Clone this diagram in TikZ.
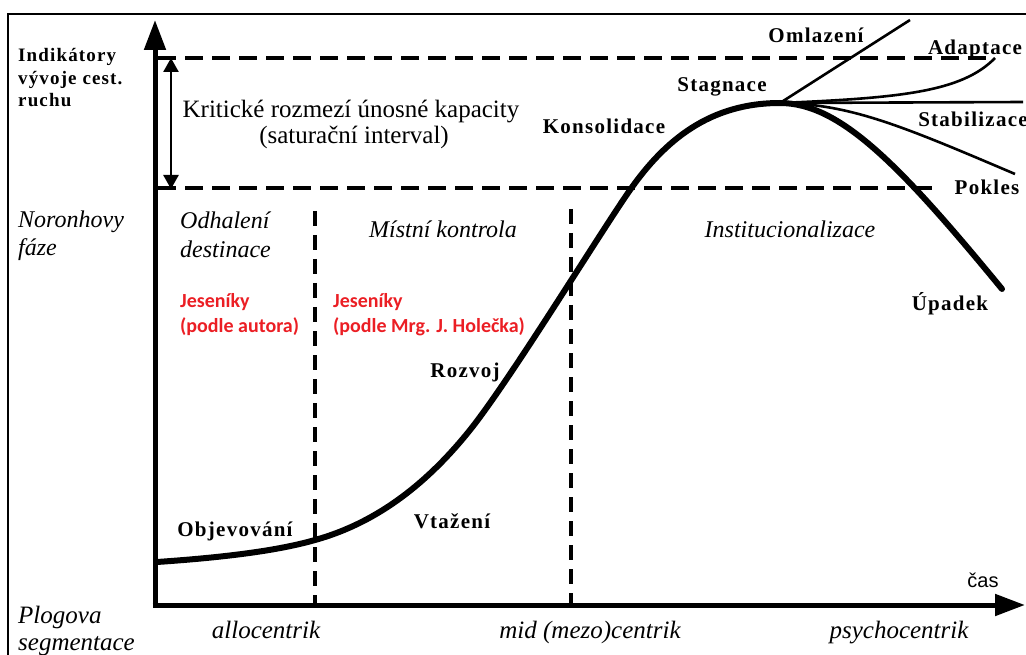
\documentclass[tikz,border=0pt]{standalone}
\usepackage{fontspec}
\setmainfont{Liberation Serif}
\newfontfamily\lblfont[LetterSpace=6]{Liberation Serif}
\newfontfamily\redfont{Carlito}
\newfontfamily\casfont{Liberation Sans}
\usetikzlibrary{arrows.meta}
\definecolor{jred}{RGB}{235,30,36}
\tikzset{
  frame/.style={line width=2pt},
  axis/.style={line width=5pt,-{Triangle[length=30pt,width=21pt]}},
  dline/.style={line width=4pt,dash pattern=on 18pt off 9pt},
  vdline/.style={line width=4pt,dash pattern=on 15pt off 9pt},
  curve/.style={line width=6pt,line cap=round},
  branch/.style={line width=2.6pt},
  dbl/.style={line width=2.5pt,{Triangle[length=14pt,width=15pt]}-{Triangle[length=14pt,width=15pt]}},
  boldlbl/.style={font=\lblfont\bfseries\fontsize{21}{25}\selectfont,inner sep=0pt,anchor=base},
  sidelbl/.style={font=\lblfont\bfseries\fontsize{19}{23}\selectfont,inner sep=0pt,anchor=base west},
  phase/.style={font=\itshape\fontsize{24}{28}\selectfont,inner sep=0pt,anchor=base},
  phasel/.style={phase,anchor=base west},
  redlbl/.style={font=\redfont\bfseries\fontsize{20}{24}\selectfont,text=jred,inner sep=0pt,anchor=base west},
  krit/.style={font=\fontsize{25}{30}\selectfont,inner sep=0pt,anchor=base},
  bottom/.style={font=\itshape\fontsize{25}{30}\selectfont,inner sep=0pt,anchor=base},
  bottoml/.style={bottom,anchor=base west},
}
\begin{document}
\begin{tikzpicture}[x=1pt,y=-1pt]
\useasboundingbox (0,0) rectangle (1026,655);
% frame
\draw[frame] (8,655) -- (8,14) -- (1026,14);
% dashed horizontal bounds
\coordinate (t1) at (158,58); \coordinate (t2) at (994,58);
\coordinate (b1) at (158,188); \coordinate (b2) at (934,188);
\draw[dline] (t1) -- (t2);
\draw[dline] (b1) -- (b2);
% vertical dashed
\coordinate (v1a) at (315,211); \coordinate (v1b) at (315,603);
\coordinate (v2a) at (571,209); \coordinate (v2b) at (571,603);
\draw[vdline] (v1a) -- (v1b);
\draw[vdline] (v2a) -- (v2b);
% double arrow
\coordinate (da) at (171,58); \coordinate (db) at (171,189);
\draw[dbl] (da) -- (db);
% axes
\coordinate (o) at (155,605);
\coordinate (ytip) at (155,20);
\coordinate (xtip) at (1025,605);
\draw[axis] (155,607.5) -- (ytip);
\draw[axis] (152.5,605) -- (xtip);
% branches
\coordinate (peak) at (780,103);
\coordinate (om) at (910,20);
\coordinate (ad) at (995,58);
\coordinate (st) at (1023,102);
\coordinate (po) at (1015,174);
\draw[branch] (peak) -- (om);
\draw[branch] (peak) .. controls (900,98) and (962,92) .. (ad);
\draw[branch] (peak) -- (st);
\draw[branch] (peak) .. controls (850,104) and (900,125) .. (po);
% main curve
\coordinate (c0) at (157,562);
\coordinate (c1) at (315,540);
\coordinate (c2) at (470,430);
\coordinate (c3) at (630,190);
\coordinate (c4) at (1002,289);
\draw[curve] (c0) .. controls (230,557) and (280,550) .. (c1)
  .. controls (380,522) and (430,480) .. (c2)
  .. controls (510,380) and (600,233) .. (c3)
  .. controls (665,140) and (710,103) .. (peak)
  .. controls (840,103) and (900,165) .. (c4);
% left side labels
\node[sidelbl] (ind1) at (18,62) {Indikátory};
\node[sidelbl] (ind2) at (18,85) {vývoje cest.};
\node[sidelbl] (ind3) at (18,107) {ruchu};
\node[phasel] (nor1) at (18,228) {Noronhovy};
\node[phasel] (nor2) at (18,256) {fáze};
\node[bottoml] (plo1) at (18,623) {Plogova};
\node[bottoml] (plo2) at (18,650) {segmentace};
% critical interval
\node[krit] (kr1) at (351,118) {Kritické rozmezí únosné kapacity};
\node[krit] (kr2) at (354,144) {(saturační interval)};
% stage labels
\node[boldlbl] (kon) at (604,134) {Konsolidace};
\node[boldlbl] (sta) at (722,92) {Stagnace};
\node[boldlbl] (oml) at (816,43) {Omlazení};
\node[boldlbl] (ada) at (975,55) {Adaptace};
\node[boldlbl] (stb) at (973,127) {Stabilizace};
\node[boldlbl] (pok) at (987,195) {Pokles};
\node[boldlbl] (upa) at (950,310) {Úpadek};
\node[boldlbl] (roz) at (465,377) {Rozvoj};
\node[boldlbl] (vta) at (452,528) {Vtažení};
\node[boldlbl] (obj) at (235,536) {Objevování};
% phases
\node[phasel] (odh1) at (180,229) {Odhalení};
\node[phasel] (odh2) at (180,258) {destinace};
\node[phase] (mis) at (443,238) {Místní kontrola};
\node[phase] (ins) at (790,238) {Institucionalizace};
% red notes
\node[redlbl] (jes1) at (180,308) {Jeseníky};
\node[redlbl] (jes2) at (180,332) {(podle autora)};
\node[redlbl] (jes3) at (333,308) {Jeseníky};
\node[redlbl] (jes4) at (333,332) {(podle Mrg. J. Holečka)};
% time axis
\node[font=\casfont\fontsize{20}{24}\selectfont,inner sep=0pt,anchor=base] (cas) at (983,587) {čas};
\node[bottom] (allo) at (266,638) {allocentrik};
\node[bottom] (mid) at (590,638) {mid (mezo)centrik};
\node[bottom] (psy) at (899,638) {psychocentrik};
\end{tikzpicture}
\end{document}
